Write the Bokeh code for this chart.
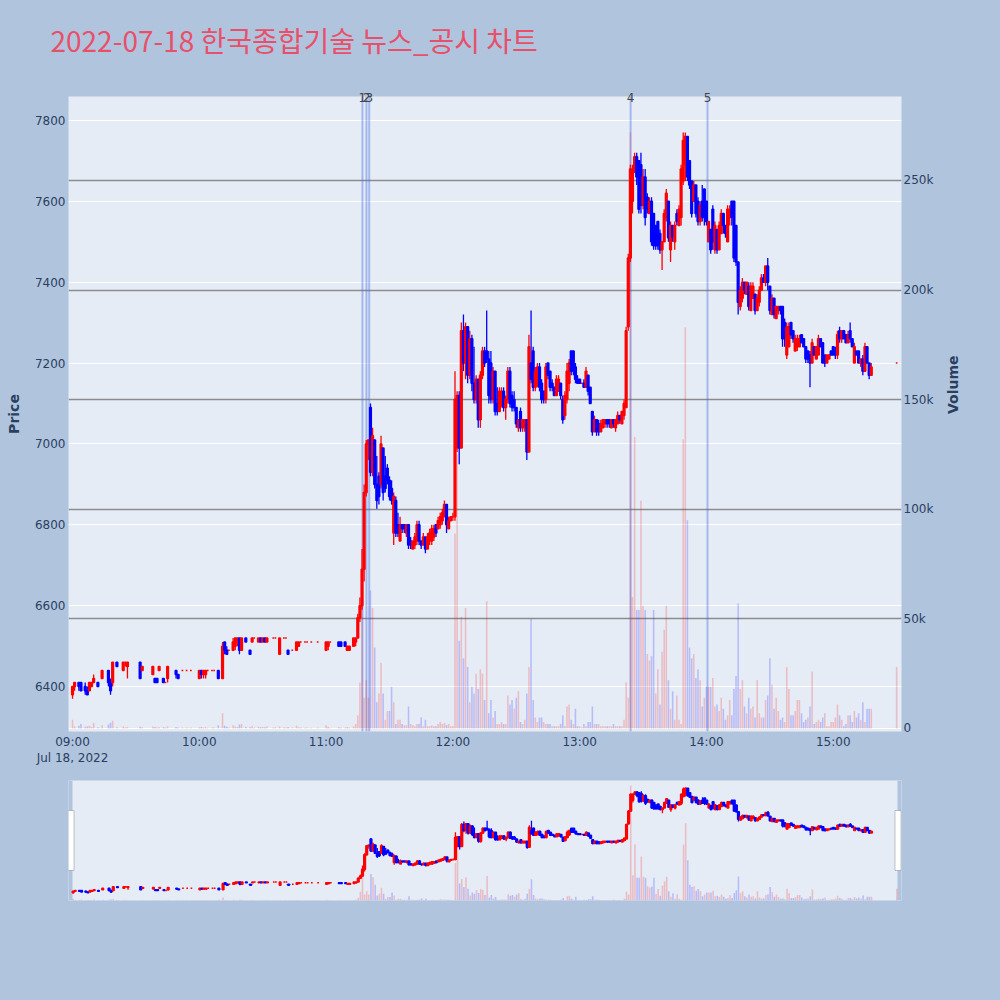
import math
import pandas as pd
from bokeh.plotting import figure
from bokeh.models import (ColumnDataSource, Range1d, LinearAxis, Grid, Span,
                          FixedTicker, NumeralTickFormatter, DatetimeTickFormatter, BoxAnnotation)
from bokeh.layouts import column
from bokeh.embed import file_html
from bokeh.resources import INLINE

# ---------------- data ----------------
session_date = "2022-07-18"
session_open = "09:00"
title_text = "2022-07-18 한국종합기술 뉴스_공시 차트"

# minutes after 09:00 for each 1-minute candle
minutes = [
    0, 1, 3, 4, 6, 7, 8, 9, 10, 12,
    14, 17, 18, 19, 21, 24, 25, 26, 32, 33,
    38, 39, 40, 41, 43, 44, 45, 49, 50, 52,
    54, 56, 60, 61, 62, 63, 64, 66, 67, 69,
    71, 72, 73, 74, 76, 77, 78, 79, 80, 82,
    84, 85, 86, 88, 89, 90, 91, 92, 95, 96,
    98,
    100, 101, 102, 104, 106, 107, 108, 110, 111, 113,
    116, 120, 121, 122, 126, 127, 129, 130, 131, 133,
    134, 135, 136, 137, 138, 139, 140, 141, 142, 143,
    144, 145, 146, 147, 148, 149, 150, 151, 152, 153,
    154, 155, 156, 157, 158, 159, 160, 161, 162, 163,
    164, 165, 166, 167, 168, 169, 170, 171, 172, 173,
    174, 175, 176, 177, 178, 179, 180, 181, 182, 183,
    184, 185, 186, 187, 188, 189, 190, 191, 192, 193,
    194, 195, 196, 197, 198,
    199, 200, 201, 202, 203, 204, 205, 206, 207, 208,
    209, 210, 211, 212, 213, 214, 215, 216, 217, 218,
    219, 220, 221, 222, 223, 224, 225, 226, 227, 228,
    229, 230, 231, 232, 233, 234, 235, 236, 237, 238,
    239, 240, 241, 242, 243, 244, 245, 246, 247, 248,
    249, 250, 251, 252, 253, 254, 255, 256, 257, 258,
    259, 260, 261, 262,
    263, 264, 265, 266, 267, 268, 269, 270, 271, 272,
    273, 274, 275, 276, 277, 278, 279, 280, 281, 282,
    283, 284, 285, 286, 287, 288, 289, 290, 291, 292,
    293, 294, 295, 296, 297, 298, 299, 300, 301, 302,
    303, 304, 305, 306, 307, 308, 309, 310, 311, 312,
    313, 314, 315, 316, 317, 318, 319, 320, 321, 322,
    323, 324, 325, 326, 327, 328, 329, 330, 331, 332,
    333, 334, 335, 336, 337, 338, 339, 340, 341, 342,
    343, 344, 345, 346, 347, 348, 349, 350, 351, 352,
    353, 354, 355, 356, 357, 358, 359, 360, 361, 362,
    363, 364, 365, 366, 367, 368, 369, 370, 371, 372,
    373, 374, 375, 376, 377, 378,
    390,
]

opens = [
    6380, 6400, 6410, 6410, 6400, 6390, 6390, 6400, 6410, 6410,
    6420, 6440, 6410, 6410, 6460, 6440, 6460, 6450, 6460, 6440,
    6430, 6420, 6420, 6440, 6420, 6410, 6420, 6440, 6430, 6440,
    6440, 6440, 6420, 6440, 6430, 6430, 6440, 6440, 6440, 6440,
    6420, 6510, 6490, 6490, 6490, 6500, 6510, 6520, 6490, 6520,
    6490, 6510, 6520, 6510, 6520, 6510, 6520, 6510, 6520, 6520,
    6480,
    6520, 6520, 6490, 6490, 6490, 6500, 6510, 6510, 6510, 6510,
    6510, 6490, 6500, 6510, 6510, 6510, 6510, 6490, 6490, 6500,
    6510, 6520, 6570, 6600, 6690, 6880, 7000, 7090, 6930, 7010,
    6900, 6920, 6900, 6990, 6920, 6940, 6910, 6890, 6780, 6860,
    6800, 6760, 6800, 6800, 6780, 6800, 6760, 6740, 6750, 6760,
    6800, 6760, 6750, 6770, 6740, 6760, 6760, 6770, 6800, 6790,
    6800, 6810, 6820, 6850, 6790, 6810, 6820, 6820, 6990, 7120,
    6990, 7280, 7200, 7290, 7170, 7260, 7150, 7110, 7160, 7060,
    7170, 7230, 7230, 7210, 7200,
    7110, 7180, 7100, 7080, 7100, 7130, 7090, 7110, 7180, 7120,
    7110, 7090, 7040, 7080, 7040, 7040, 7060, 6980, 7200, 7230,
    7140, 7150, 7190, 7150, 7130, 7110, 7200, 7180, 7150, 7140,
    7120, 7130, 7150, 7110, 7070, 7110, 7150, 7230, 7230, 7190,
    7160, 7160, 7150, 7150, 7140, 7170, 7140, 7080, 7030, 7060,
    7050, 7030, 7040, 7050, 7060, 7060, 7040, 7060, 7040, 7050,
    7070, 7050, 7070, 7090,
    7290, 7460, 7600, 7680, 7710, 7700, 7690, 7590, 7660, 7610,
    7570, 7600, 7570, 7540, 7550, 7520, 7480, 7500, 7560, 7600,
    7480, 7540, 7500, 7570, 7540, 7560, 7650, 7690, 7760, 7700,
    7650, 7600, 7640, 7600, 7550, 7600, 7630, 7600, 7500, 7530,
    7580, 7480, 7530, 7480, 7520, 7570, 7540, 7500, 7560, 7600,
    7600, 7540, 7450, 7340, 7360, 7400, 7370, 7390, 7330, 7360,
    7370, 7330, 7350, 7380, 7410, 7400, 7440, 7390, 7320, 7360,
    7310, 7330, 7340, 7340, 7300, 7220, 7240, 7300, 7280, 7230,
    7240, 7240, 7270, 7260, 7240, 7230, 7220, 7200, 7240, 7210,
    7220, 7260, 7250, 7220, 7200, 7210, 7230, 7240, 7230, 7220,
    7280, 7260, 7280, 7270, 7250, 7280, 7260, 7200, 7230, 7230,
    7200, 7210, 7180, 7240, 7200, 7170,
    7200,
]

highs = [
    6400, 6410, 6410, 6410, 6410, 6400, 6410, 6410, 6430, 6410,
    6440, 6440, 6420, 6460, 6460, 6460, 6460, 6460, 6460, 6450,
    6450, 6420, 6420, 6450, 6420, 6410, 6450, 6440, 6430, 6440,
    6440, 6440, 6440, 6440, 6440, 6440, 6440, 6440, 6440, 6440,
    6510, 6510, 6500, 6490, 6520, 6520, 6520, 6520, 6520, 6520,
    6490, 6520, 6520, 6520, 6520, 6520, 6520, 6520, 6520, 6520,
    6520,
    6520, 6520, 6490, 6490, 6510, 6510, 6510, 6510, 6510, 6510,
    6510, 6510, 6510, 6510, 6510, 6510, 6510, 6500, 6500, 6520,
    6520, 6580, 6620, 6740, 6900, 7010, 7010, 7100, 7040, 7010,
    6970, 6930, 7020, 6990, 6970, 6950, 6920, 6910, 6880, 6870,
    6830, 6820, 6800, 6800, 6800, 6800, 6770, 6760, 6780, 6810,
    6810, 6760, 6780, 6770, 6780, 6790, 6800, 6800, 6800, 6820,
    6830, 6840, 6860, 6850, 6820, 6820, 6830, 7180, 7130, 7130,
    7300, 7320, 7300, 7290, 7280, 7270, 7240, 7170, 7160, 7180,
    7240, 7240, 7330, 7230, 7230,
    7190, 7180, 7140, 7140, 7140, 7140, 7120, 7190, 7190, 7130,
    7130, 7090, 7060, 7090, 7060, 7060, 7060, 7270, 7330, 7240,
    7190, 7200, 7200, 7160, 7130, 7200, 7200, 7180, 7160, 7140,
    7170, 7170, 7150, 7120, 7130, 7200, 7210, 7230, 7230, 7200,
    7170, 7160, 7150, 7160, 7190, 7170, 7140, 7080, 7070, 7060,
    7060, 7060, 7060, 7060, 7060, 7060, 7060, 7060, 7060, 7080,
    7070, 7080, 7110, 7290,
    7470, 7690, 7690, 7720, 7720, 7700, 7720, 7680, 7680, 7620,
    7610, 7610, 7570, 7540, 7550, 7530, 7500, 7580, 7630, 7600,
    7550, 7540, 7550, 7580, 7590, 7690, 7770, 7770, 7760, 7700,
    7650, 7650, 7640, 7610, 7600, 7640, 7630, 7600, 7550, 7530,
    7590, 7550, 7530, 7550, 7580, 7570, 7540, 7590, 7590, 7600,
    7600, 7540, 7450, 7390, 7410, 7400, 7400, 7400, 7400, 7400,
    7370, 7370, 7390, 7420, 7420, 7440, 7460, 7390, 7370, 7360,
    7340, 7340, 7340, 7340, 7310, 7300, 7300, 7300, 7280, 7270,
    7270, 7270, 7270, 7260, 7240, 7230, 7230, 7260, 7240, 7240,
    7270, 7260, 7250, 7220, 7220, 7220, 7230, 7240, 7240, 7280,
    7290, 7280, 7280, 7270, 7280, 7300, 7260, 7250, 7230, 7230,
    7210, 7220, 7250, 7240, 7200, 7200,
    7200,
]

lows = [
    6370, 6390, 6390, 6390, 6380, 6380, 6390, 6400, 6410, 6400,
    6420, 6400, 6380, 6400, 6450, 6440, 6450, 6420, 6420, 6440,
    6430, 6410, 6410, 6440, 6410, 6410, 6410, 6420, 6420, 6440,
    6440, 6440, 6420, 6420, 6420, 6420, 6440, 6440, 6440, 6420,
    6420, 6480, 6480, 6490, 6490, 6490, 6500, 6480, 6490, 6510,
    6480, 6510, 6520, 6510, 6510, 6510, 6510, 6510, 6520, 6520,
    6480,
    6520, 6520, 6480, 6490, 6490, 6500, 6510, 6510, 6510, 6510,
    6510, 6490, 6490, 6510, 6500, 6500, 6500, 6490, 6490, 6500,
    6500, 6520, 6560, 6590, 6660, 6870, 6960, 6920, 6920, 6890,
    6840, 6850, 6890, 6860, 6880, 6900, 6860, 6850, 6750, 6770,
    6770, 6760, 6780, 6780, 6770, 6740, 6740, 6740, 6740, 6750,
    6750, 6740, 6750, 6730, 6740, 6750, 6750, 6760, 6770, 6790,
    6790, 6800, 6820, 6780, 6790, 6810, 6810, 6810, 6980, 6950,
    6990, 7180, 7160, 7150, 7160, 7130, 7100, 7100, 7040, 7040,
    7160, 7190, 7200, 7100, 7100,
    7100, 7070, 7070, 7080, 7090, 7080, 7060, 7100, 7090, 7080,
    7080, 7040, 7030, 7030, 7030, 7030, 6960, 6980, 7150, 7130,
    7130, 7140, 7130, 7100, 7100, 7100, 7160, 7130, 7130, 7120,
    7120, 7130, 7110, 7050, 7060, 7100, 7130, 7170, 7170, 7150,
    7150, 7150, 7150, 7140, 7140, 7120, 7100, 7020, 7030, 7020,
    7020, 7030, 7040, 7040, 7040, 7040, 7040, 7040, 7030, 7050,
    7050, 7050, 7060, 7090,
    7280, 7450, 7570, 7670, 7640, 7570, 7570, 7580, 7540, 7570,
    7570, 7490, 7480, 7480, 7480, 7470, 7430, 7500, 7550, 7500,
    7450, 7500, 7480, 7540, 7540, 7540, 7640, 7650, 7650, 7630,
    7560, 7600, 7560, 7540, 7540, 7550, 7540, 7540, 7500, 7470,
    7480, 7470, 7470, 7480, 7520, 7520, 7510, 7500, 7540, 7540,
    7450, 7440, 7320, 7330, 7350, 7370, 7370, 7330, 7330, 7360,
    7320, 7330, 7340, 7380, 7400, 7390, 7380, 7320, 7320, 7310,
    7310, 7320, 7320, 7240, 7240, 7210, 7240, 7260, 7250, 7230,
    7230, 7240, 7250, 7240, 7200, 7200, 7140, 7200, 7220, 7210,
    7220, 7240, 7200, 7190, 7200, 7210, 7220, 7220, 7210, 7210,
    7250, 7250, 7260, 7250, 7250, 7250, 7240, 7200, 7220, 7200,
    7190, 7170, 7180, 7200, 7160, 7170,
    7200,
]

closes = [
    6400, 6410, 6400, 6390, 6390, 6380, 6410, 6410, 6420, 6400,
    6440, 6410, 6390, 6460, 6450, 6460, 6460, 6460, 6420, 6450,
    6450, 6410, 6410, 6450, 6410, 6410, 6450, 6430, 6420, 6440,
    6440, 6440, 6440, 6430, 6440, 6440, 6440, 6440, 6440, 6420,
    6500, 6490, 6480, 6490, 6510, 6520, 6520, 6490, 6520, 6510,
    6480, 6520, 6520, 6520, 6510, 6520, 6510, 6520, 6520, 6520,
    6520,
    6520, 6520, 6480, 6490, 6510, 6510, 6510, 6510, 6510, 6510,
    6510, 6510, 6510, 6510, 6500, 6500, 6500, 6500, 6500, 6520,
    6520, 6570, 6600, 6690, 6880, 7000, 7010, 6930, 7020, 6900,
    6860, 6870, 7000, 6880, 6890, 6910, 6870, 6860, 6870, 6780,
    6780, 6800, 6790, 6790, 6800, 6750, 6750, 6760, 6770, 6800,
    6760, 6750, 6770, 6740, 6770, 6780, 6790, 6790, 6780, 6810,
    6820, 6830, 6850, 6800, 6810, 6820, 6820, 7110, 7120, 6990,
    7280, 7200, 7290, 7170, 7260, 7150, 7110, 7160, 7060, 7170,
    7230, 7200, 7210, 7120, 7110,
    7180, 7080, 7080, 7130, 7130, 7090, 7110, 7180, 7100, 7090,
    7090, 7050, 7060, 7040, 7060, 7060, 6980, 7240, 7160, 7140,
    7180, 7190, 7140, 7110, 7110, 7190, 7170, 7140, 7140, 7120,
    7160, 7160, 7120, 7060, 7120, 7180, 7200, 7180, 7180, 7160,
    7150, 7150, 7150, 7140, 7180, 7130, 7100, 7030, 7060, 7030,
    7030, 7050, 7060, 7060, 7050, 7050, 7060, 7050, 7060, 7070,
    7060, 7080, 7100, 7280,
    7460, 7680, 7680, 7710, 7660, 7580, 7590, 7660, 7560, 7580,
    7600, 7500, 7490, 7490, 7490, 7480, 7500, 7570, 7620, 7510,
    7540, 7510, 7540, 7550, 7580, 7680, 7750, 7760, 7660, 7640,
    7570, 7640, 7570, 7550, 7590, 7560, 7560, 7550, 7550, 7480,
    7500, 7540, 7480, 7540, 7570, 7540, 7520, 7580, 7580, 7560,
    7460, 7450, 7350, 7380, 7400, 7380, 7400, 7340, 7390, 7390,
    7330, 7360, 7380, 7410, 7400, 7440, 7400, 7330, 7360, 7320,
    7340, 7340, 7330, 7260, 7260, 7290, 7290, 7270, 7260, 7260,
    7260, 7260, 7250, 7240, 7210, 7210, 7200, 7250, 7220, 7240,
    7260, 7240, 7200, 7200, 7220, 7220, 7220, 7220, 7220, 7270,
    7260, 7280, 7260, 7250, 7270, 7260, 7240, 7240, 7220, 7200,
    7210, 7180, 7240, 7200, 7170, 7190,
    7200,
]

volumes = [
    4000, 1000, 1200, 2000, 800, 900, 1200, 700, 2500, 600,
    1500, 1800, 2600, 3500, 600, 900, 500, 700, 800, 600,
    900, 700, 500, 600, 600, 400, 900, 700, 500, 400,
    500, 400, 600, 700, 500, 600, 300, 500, 400, 1500,
    7000, 1200, 800, 500, 1500, 900, 700, 1800, 2000, 800,
    600, 1000, 500, 800, 600, 700, 600, 900, 500, 600,
    900,
    600, 400, 700, 500, 1200, 600, 400, 300, 500, 300,
    400, 1500, 800, 300, 600, 500, 400, 700, 500, 900,
    2000, 6000, 21000, 56000, 14000, 22000, 14000, 63000, 55000, 37000,
    12000, 16000, 30000, 16000, 4000, 8000, 8000, 19000, 12000, 2000,
    4000, 4000, 2000, 1500, 1500, 10000, 2000, 1500, 1000, 2000,
    2000, 5000, 1000, 4000, 1000, 1000, 1500, 1000, 1000, 2000,
    3000, 2000, 2500, 1500, 2000, 1000, 1000, 89000, 125000, 40000,
    51000, 32000, 55000, 28000, 12000, 19000, 16000, 25000, 18000, 27000,
    25000, 13000, 58000, 7000, 13000,
    5000, 8000, 2000, 2000, 3000, 2000, 2000, 15000, 11000, 13000,
    9000, 14000, 17000, 3000, 2000, 4000, 16000, 28000, 50000, 13000,
    5000, 3000, 5000, 5000, 3000, 2000, 2000, 2000, 1000, 1000,
    1000, 1000, 2000, 6000, 1000, 10000, 11000, 4000, 2000, 9000,
    1000, 1000, 500, 2000, 1000, 3000, 3000, 10000, 2000, 2000,
    2000, 1000, 1000, 1000, 1000, 1000, 1000, 2000, 1000, 1000,
    1000, 1000, 4000, 21000,
    14000, 272000, 60000, 133000, 54000, 54000, 104000, 56000, 54000, 34000,
    31000, 33000, 54000, 16000, 27000, 11000, 35000, 45000, 56000, 22000,
    9000, 17000, 4000, 15000, 4000, 2000, 132000, 183000, 95000, 37000,
    32000, 34000, 23000, 27000, 22000, 10000, 14000, 19000, 19000, 19000,
    23000, 10000, 11000, 8000, 14000, 9000, 4000, 6000, 13000, 6000,
    18000, 24000, 57000, 18000, 22000, 10000, 7000, 14000, 9000, 10000,
    5000, 22000, 7000, 5000, 5000, 13000, 15000, 32000, 20000, 9000,
    14000, 8000, 4000, 5000, 3000, 28000, 18000, 6000, 6000, 8000,
    13000, 13000, 7000, 3000, 4000, 5000, 10000, 26000, 2000, 3000,
    4000, 3000, 5000, 7000, 1000, 1000, 3000, 3000, 5000, 11000,
    6000, 4000, 1000, 2000, 6000, 6000, 3000, 8000, 5000, 7000,
    4000, 12000, 3000, 9000, 9000, 9000,
    28000,
]

# news / disclosure markers
news_labels = ["1", "2", "3", "4", "5"]
news_times = ["11:17:12", "11:19:06", "11:20:24", "13:24:06", "14:00:30"]

price_ticks = [6400, 6600, 6800, 7000, 7200, 7400, 7600, 7800]
volume_ticks = [0, 50000, 100000, 150000, 200000, 250000]
hour_ticks = ["09:00", "10:00", "11:00", "12:00", "13:00", "14:00", "15:00"]

# ---------------- build ----------------
UP, DOWN = "#FF0000", "#0000FF"
PAPER, PLOTBG = "#B0C4DE", "#E5ECF6"
TXT = "#2a3f5f"
FONT = "DejaVu Sans"
MIN_MS = 60000

n = min(len(minutes), len(opens), len(highs), len(lows), len(closes), len(volumes))
base = pd.Timestamp(f"{session_date} {session_open}")
epoch = pd.Timestamp("1970-01-01")


def ms(ts):
    return (ts - epoch) / pd.Timedelta(milliseconds=1)


times = [base + pd.Timedelta(minutes=m) for m in minutes[:n]]
o, h, l, c, v = opens[:n], highs[:n], lows[:n], closes[:n], volumes[:n]
color = [UP if c[i] >= o[i] else DOWN for i in range(n)]
vcolor = [UP if (c[i] >= (c[i - 1] if i > 0 else o[i])) else DOWN for i in range(n)]
src = ColumnDataSource(dict(
    t=times, o=o, h=h, l=l, c=c, vol=v,
    top=[max(o[i], c[i]) for i in range(n)],
    bottom=[min(o[i], c[i]) for i in range(n)],
    color=color, vcolor=vcolor,
))

# ---------------- title strip (page y 0..86) ----------------
tf = figure(width=1000, height=86, output_backend="svg", toolbar_location=None,
            background_fill_color=PAPER, border_fill_color=PAPER, outline_line_color=None,
            min_border_left=68, min_border_right=99, min_border_top=0, min_border_bottom=0)
tf.axis.visible = False
tf.grid.visible = False
tf.title.text = title_text
tf.title.text_font = "Noto Sans CJK KR"
tf.title.text_font_size = "28px"
tf.title.text_font_style = "normal"
tf.title.text_color = "#E8506A"
tf.title.align = "left"
tf.title.vertical_align = "bottom"
tf.title.offset = -18
tf.title.standoff = 34

# ---------------- main chart: frame x 68..901, y 96..731 (page px) ----------------
x_start = base - pd.Timedelta(seconds=114)
x_end = base + pd.Timedelta(seconds=int(392.3 * 60))
price_range = Range1d(6289, 7859)
vol_range = Range1d(-1370, 288300)

p = figure(width=1000, height=687, x_axis_type="datetime",
           x_range=Range1d(x_start, x_end), y_range=price_range,
           output_backend="svg", toolbar_location=None,
           background_fill_color=PLOTBG, border_fill_color=PAPER,
           outline_line_color=None,
           min_border_left=68, min_border_right=99,
           min_border_top=10, min_border_bottom=42)
p.extra_y_ranges = {"vol": vol_range}

# grids
p.xgrid.visible = False
p.ygrid.grid_line_color = "white"
p.ygrid.grid_line_width = 1
p.ygrid.ticker = FixedTicker(ticks=price_ticks)


def style_axis(ax, label_standoff, tick_standoff):
    ax.axis_label_text_font = FONT
    ax.axis_label_text_font_style = "bold"
    ax.axis_label_text_font_size = "14px"
    ax.axis_label_text_color = TXT
    ax.axis_label_standoff = label_standoff
    ax.major_label_text_font = FONT
    ax.major_label_text_font_size = "12px"
    ax.major_label_text_color = TXT
    ax.major_label_standoff = tick_standoff
    ax.axis_line_color = None
    ax.major_tick_line_color = None
    ax.minor_tick_line_color = None
    ax.major_tick_out = 0
    ax.major_tick_in = 0
    ax.minor_tick_out = 0
    ax.minor_tick_in = 0


# left (price) axis
ya = p.yaxis[0]
ya.ticker = FixedTicker(ticks=price_ticks)
ya.axis_label = "Price"
style_axis(ya, 10, 3)

# right (volume) axis
va = LinearAxis(y_range_name="vol", ticker=FixedTicker(ticks=volume_ticks),
                formatter=NumeralTickFormatter(format="0a"))
va.axis_label = "Volume"
style_axis(va, 17, 2)
if "axis_label_orientation" in va.properties():
    va.axis_label_orientation = math.pi / 2
p.add_layout(va, "right")

vgrid = Grid(dimension=1, axis=va, y_range_name="vol",
             grid_line_color="#8c8c8c", grid_line_width=1.5)
p.add_layout(vgrid)
p.add_layout(Span(location=0, dimension="width", y_range_name="vol",
                  line_color="white", line_width=2, level="underlay"))

# x axis
xa = p.xaxis[0]
xa.ticker = FixedTicker(ticks=[ms(pd.Timestamp(f"{session_date} {hh}")) for hh in hour_ticks])
xa.formatter = DatetimeTickFormatter(hours="%H:%M", hourmin="%H:%M", minutes="%H:%M",
                                     context="%b %d, %Y", context_which="start")
style_axis(xa, 0, 3)

# volume bars
p.vbar(x="t", top="vol", bottom=0, width=0.75 * MIN_MS, y_range_name="vol",
       fill_color="vcolor", fill_alpha=0.2, line_color=None, source=src)

# news markers: vertical lines + numbers on a top axis (not clipped by the frame)
news_ms = [int(ms(pd.Timestamp(f"{session_date} {tm}"))) for tm in news_times]
for tt in news_ms:
    p.add_layout(Span(location=tt, dimension="height", line_color="royalblue",
                      line_alpha=0.4, line_width=2, level="underlay"))
na = LinearAxis(ticker=FixedTicker(ticks=news_ms),
                major_label_overrides={tt: lab for tt, lab in zip(news_ms, news_labels)})
style_axis(na, 0, -5)
na.major_label_text_color = "#444444"
p.add_layout(na, "above")

# candles
p.segment(x0="t", y0="h", x1="t", y1="l", line_color="color", line_width=1.3, source=src)
p.vbar(x="t", top="top", bottom="bottom", width=0.8 * MIN_MS, fill_color="color",
       line_color="color", line_width=1.5, source=src)

# ---------------- range slider ----------------
# visible slider area x 72..897, y 780..900 (frame kept aligned with main: 68..901)
data_start = base - pd.Timedelta(seconds=18)
data_end = base + pd.Timedelta(seconds=390 * 60 + 18)
px_per_min = 825.0 / ((ms(data_end) - ms(data_start)) / MIN_MS)
s_start = data_start - pd.Timedelta(seconds=4 / px_per_min * 60)
s_end = data_end + pd.Timedelta(seconds=4 / px_per_min * 60)
s = figure(width=1000, height=225, x_axis_type="datetime",
           x_range=Range1d(s_start, s_end), y_range=Range1d(6277, 7862),
           output_backend="svg", toolbar_location=None,
           background_fill_color=PLOTBG, border_fill_color=PAPER,
           outline_line_color=None,
           min_border_left=68, min_border_right=99,
           min_border_top=7, min_border_bottom=98)
s.extra_y_ranges = {"vol": Range1d(0, 284000)}
s.axis.visible = False
s.grid.visible = False
# paper strips outside the slider's data area
s.add_layout(BoxAnnotation(right=ms(data_start), fill_color=PAPER, fill_alpha=1.0,
                           line_color=None, level="underlay"))
s.add_layout(BoxAnnotation(left=ms(data_end), fill_color=PAPER, fill_alpha=1.0,
                           line_color=None, level="underlay"))
s.vbar(x="t", top="vol", bottom=0, width=0.75 * MIN_MS, y_range_name="vol",
       fill_color="vcolor", fill_alpha=0.2, line_color=None, source=src)
s.segment(x0="t", y0="h", x1="t", y1="l", line_color="color", line_width=1.3, source=src)
s.vbar(x="t", top="top", bottom="bottom", width=0.8 * MIN_MS, fill_color="color",
       line_color="color", line_width=1.5, source=src)

px = MIN_MS / px_per_min
yr = s.y_range
hb, ht = yr.start + 0.25 * (yr.end - yr.start), yr.start + 0.75 * (yr.end - yr.start)
for centre in (ms(data_start) - 1.5 * px, ms(data_end) + 0.5 * px):
    s.add_layout(BoxAnnotation(left=centre - 3 * px, right=centre + 3 * px, bottom=hb, top=ht,
                               fill_color="white", fill_alpha=1.0, line_color="#444444",
                               line_width=1, level="overlay"))

layout = column(tf, p, s, spacing=0)
html = file_html(layout, INLINE)
html = html.replace("</head>", "<style>html,body{background-color:#B0C4DE;}</style></head>", 1)
open("out.html", "w").write(html)
